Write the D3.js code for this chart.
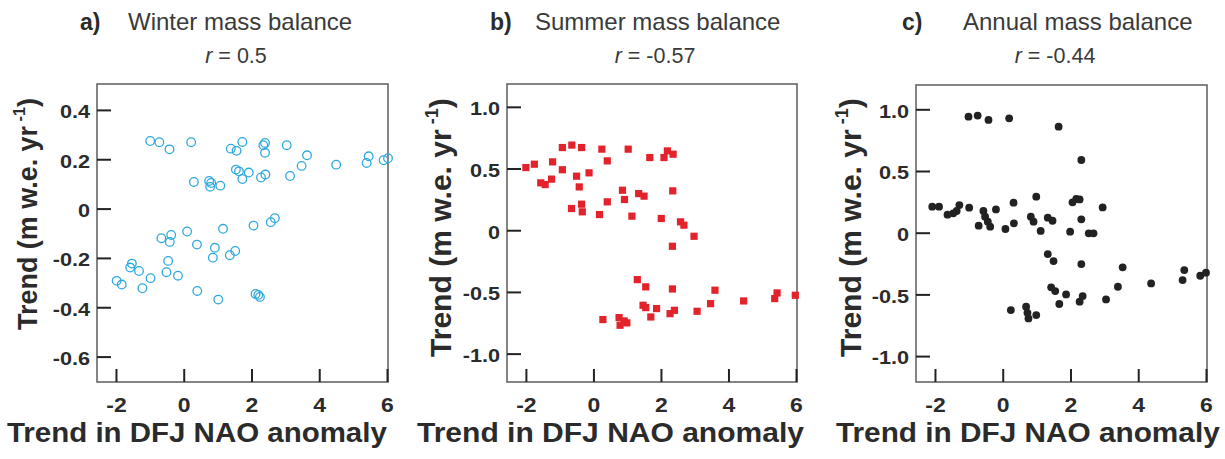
<!DOCTYPE html>
<html>
<head>
<meta charset="utf-8">
<script src="https://cdn.jsdelivr.net/npm/d3@7"></script>
<style>
  html, body { margin: 0; padding: 0; background: #fff; }
  svg { display: block; font-family: "Liberation Sans", Arial, sans-serif; }
</style>
</head>
<body>
<svg id="chart" width="1225" height="459"></svg>
<script>
// ---------------- data ----------------
const xTickValues = [-2, 0, 2, 4, 6];
const winterYTicks = [-0.6, -0.4, -0.2, 0, 0.2, 0.4];
const balanceYTicks = [-1.0, -0.5, 0, 0.5, 1.0];

const panelLetters = ["a)", "b)", "c)"];
const panelTitles = ["Winter mass balance", "Summer mass balance", "Annual mass balance"];
const rValues = ["0.5", "-0.57", "-0.44"];
const xAxisTitle = "Trend in DFJ NAO anomaly";

// a) winter mass balance trend vs NAO trend
const winterX = [-0.99,-0.72,-0.42,0.22,1.39,1.56,1.73,2.35,2.40,2.40,3.04,3.64,3.48,4.50,5.46,5.40,5.90,6.03,
  1.54,1.63,1.92,1.73,2.28,2.41,3.14,0.30,0.75,0.81,0.78,1.08,
  2.69,2.57,2.06,1.16,0.10,-0.37,-0.66,-0.41,0.39,0.92,0.86,1.52,1.36,-0.46,-1.53,-1.58,-1.32,-0.51,-0.17,
  -0.98,-1.98,-1.83,-1.22,0.40,1.02,2.12,2.25,2.20];
const winterY = [0.274,0.269,0.240,0.269,0.243,0.234,0.270,0.257,0.266,0.226,0.257,0.216,0.173,0.178,0.212,0.185,0.196,0.204,
  0.158,0.151,0.146,0.120,0.126,0.138,0.132,0.108,0.112,0.104,0.088,0.093,
  -0.039,-0.055,-0.069,-0.082,-0.093,-0.107,-0.120,-0.135,-0.146,-0.159,-0.199,-0.172,-0.189,-0.212,-0.223,-0.239,-0.253,-0.258,-0.272,
  -0.282,-0.293,-0.308,-0.323,-0.334,-0.369,-0.346,-0.358,-0.350];

// b) summer mass balance trend vs NAO trend
const summerX = [-2.00,-1.75,-1.21,-1.56,-1.43,-1.24,-0.92,-0.92,-0.64,-0.35,-0.50,-0.13,-0.42,-0.65,-0.35,-0.33,0.18,
  0.25,0.41,0.41,1.03,0.86,0.92,1.14,1.34,1.50,1.67,2.09,2.19,2.36,2.35,2.01,2.58,2.68,2.98,2.34,
  1.30,1.55,2.34,3.60,5.44,5.37,5.98,4.45,3.47,3.07,1.47,1.55,1.87,1.70,2.27,2.40,0.28,0.76,0.79,0.99,0.91];
const summerY = [0.508,0.535,0.554,0.384,0.370,0.414,0.490,0.670,0.690,0.670,0.438,0.465,0.351,0.176,0.211,0.149,0.127,
  0.657,0.562,0.230,0.657,0.324,0.249,0.114,0.297,0.276,0.589,0.589,0.643,0.616,0.319,0.095,0.068,0.041,-0.049,-0.130,
  -0.400,-0.459,-0.476,-0.486,-0.508,-0.554,-0.527,-0.573,-0.595,-0.657,-0.608,-0.627,-0.635,-0.703,-0.676,-0.649,-0.724,-0.708,-0.770,-0.751,-0.735];

// c) annual mass balance trend vs NAO trend
const annualX = [-2.08,-1.88,-1.63,-1.46,-1.36,-1.28,-0.99,-1.01,-0.74,-0.42,0.19,-0.57,-0.52,-0.71,-0.44,-0.37,-0.20,0.08,0.32,0.33,
  0.99,0.83,0.91,1.12,1.33,1.47,1.99,2.06,2.17,2.27,2.32,2.54,2.68,2.95,1.65,2.32,
  1.33,1.50,2.32,3.54,1.43,1.55,1.87,1.67,2.27,2.36,3.05,3.40,4.38,5.31,5.36,5.83,6.00,0.24,0.69,0.73,0.76,0.99];
const annualY = [0.211,0.211,0.146,0.157,0.176,0.224,0.203,0.940,0.949,0.914,0.927,0.176,0.130,0.057,0.089,0.049,0.189,0.030,0.243,0.076,
  0.292,0.130,0.089,0.014,0.122,0.097,0.008,0.246,0.273,0.270,0.108,-0.005,-0.005,0.205,0.859,0.589,
  -0.173,-0.230,-0.254,-0.281,-0.443,-0.473,-0.500,-0.578,-0.559,-0.514,-0.541,-0.438,-0.411,-0.384,-0.303,-0.349,-0.324,-0.627,-0.600,-0.649,-0.695,-0.668];

// ---------------- layout ----------------
const panels = [
  { xs: winterX, ys: winterY, yTicks: winterYTicks, marker: "open",
    xr: [97, 388], yr: [382, 84], yd: [-0.703, 0.505],
    letterX: 80, titleX: 128, rX: 236,
    ylabX: 37, ylabStart: 330, ylabLen: 232, ylabFont: 28,
    xlabStart: 7, xlabLen: 380 },
  { xs: summerX, ys: summerY, yTicks: balanceYTicks, marker: "square",
    xr: [507, 797], yr: [382, 84], yd: [-1.23, 1.185],
    letterX: 490, titleX: 535, rX: 655,
    ylabX: 451, ylabStart: 357, ylabLen: 259, ylabFont: 30,
    xlabStart: 417, xlabLen: 387 },
  { xs: annualX, ys: annualY, yTicks: balanceYTicks, marker: "dot",
    xr: [916, 1207], yr: [382, 85], yd: [-1.21, 1.197],
    letterX: 902, titleX: 963, rX: 1055,
    ylabX: 861, ylabStart: 357, ylabLen: 259, ylabFont: 30,
    xlabStart: 836, xlabLen: 384 }
];
const xDomain = [-2.56, 6.03];

const svg = d3.select("#chart");
const boldColor = "#2b2b2b";
const titleColor = "#3a3a3a";

function fitWidth(sel, target) {
  const node = sel.node();
  const w = node.getComputedTextLength();
  return target / w;
}

panels.forEach((p, i) => {
  const x = d3.scaleLinear().domain(xDomain).range(p.xr);
  const y = d3.scaleLinear().domain(p.yd).range(p.yr);
  const g = svg.append("g");

  // frame
  g.append("rect")
    .attr("x", p.xr[0]).attr("y", p.yr[1])
    .attr("width", p.xr[1] - p.xr[0]).attr("height", p.yr[0] - p.yr[1])
    .attr("fill", "none").attr("stroke", "#666").attr("stroke-width", 1.6);

  // y axis (ticks inward)
  const yAxis = d3.axisLeft(y).tickValues(p.yTicks)
    .tickSize(-14).tickPadding(0)
    .tickFormat(v => v === 0 ? "0" : v.toFixed(1));
  const ya = g.append("g").attr("transform", `translate(${p.xr[0]},0)`).call(yAxis);
  ya.select(".domain").remove();
  ya.selectAll(".tick line").attr("stroke", "#222").attr("stroke-width", 2);
  ya.selectAll(".tick text")
    .attr("x", 0).attr("dy", "0.36em")
    .attr("transform", "translate(-7,1) scale(1.14,1)")
    .attr("font-size", 19).attr("font-weight", "bold")
    .attr("font-family", "Liberation Sans, Arial, sans-serif")
    .attr("fill", boldColor);

  // x axis (ticks inward)
  const xAxis = d3.axisBottom(x).tickValues(xTickValues)
    .tickSize(-13).tickPadding(0).tickFormat(v => String(v));
  const xa = g.append("g").attr("transform", `translate(0,${p.yr[0]})`).call(xAxis);
  xa.select(".domain").remove();
  xa.selectAll(".tick line").attr("stroke", "#222").attr("stroke-width", 2);
  xa.selectAll(".tick text")
    .attr("y", 0).attr("dy", 0)
    .attr("transform", "translate(0,30) scale(1.12,1)")
    .attr("font-size", 20.5).attr("font-weight", "bold")
    .attr("font-family", "Liberation Sans, Arial, sans-serif")
    .attr("fill", boldColor);

  // points
  const pts = d3.range(p.xs.length).map(k => [p.xs[k], p.ys[k]]);
  if (p.marker === "open") {
    g.selectAll("circle.pt").data(pts).join("circle").attr("class", "pt")
      .attr("cx", d => x(d[0])).attr("cy", d => y(d[1])).attr("r", 4.3)
      .attr("fill", "none").attr("stroke", "#2fa9dd").attr("stroke-width", 1.3);
  } else if (p.marker === "square") {
    g.selectAll("rect.pt").data(pts).join("rect").attr("class", "pt")
      .attr("x", d => x(d[0]) - 3.6).attr("y", d => y(d[1]) - 3.6)
      .attr("width", 7.2).attr("height", 7.2)
      .attr("fill", "#e3222b");
  } else {
    g.selectAll("circle.pt").data(pts).join("circle").attr("class", "pt")
      .attr("cx", d => x(d[0])).attr("cy", d => y(d[1])).attr("r", 3.9)
      .attr("fill", "#222");
  }

  // titles
  g.append("text").attr("x", p.letterX).attr("y", 30)
    .attr("font-size", 23).attr("font-weight", "bold").attr("fill", boldColor)
    .text(panelLetters[i]);
  g.append("text").attr("x", p.titleX).attr("y", 30)
    .attr("font-size", 24).attr("fill", titleColor)
    .text(panelTitles[i]);
  const rt = g.append("text").attr("x", p.rX).attr("y", 63)
    .attr("text-anchor", "middle").attr("font-size", 21.5).attr("fill", titleColor);
  rt.append("tspan").attr("font-style", "italic").text("r");
  rt.append("tspan").text(" = " + rValues[i]);

  // y axis title (rotated)
  const yl = g.append("text").attr("x", 0).attr("y", 0)
    .attr("font-size", p.ylabFont).attr("font-weight", "bold").attr("fill", boldColor);
  yl.append("tspan").text("Trend (m w.e. yr");
  yl.append("tspan").attr("font-size", p.ylabFont * 0.6).attr("dy", -p.ylabFont * 0.42).text(" -1");
  yl.append("tspan").attr("dy", p.ylabFont * 0.42).text(")");
  const sy = fitWidth(yl, p.ylabLen);
  yl.attr("transform", `translate(${p.ylabX},${p.ylabStart}) rotate(-90) scale(${sy},1)`);

  // x axis title
  const xl = g.append("text").attr("x", 0).attr("y", 0)
    .attr("font-size", 27).attr("font-weight", "bold").attr("fill", boldColor)
    .text(xAxisTitle);
  const sx = fitWidth(xl, p.xlabLen);
  xl.attr("transform", `translate(${p.xlabStart},442) scale(${sx},1)`);
});
</script>
</body>
</html>
